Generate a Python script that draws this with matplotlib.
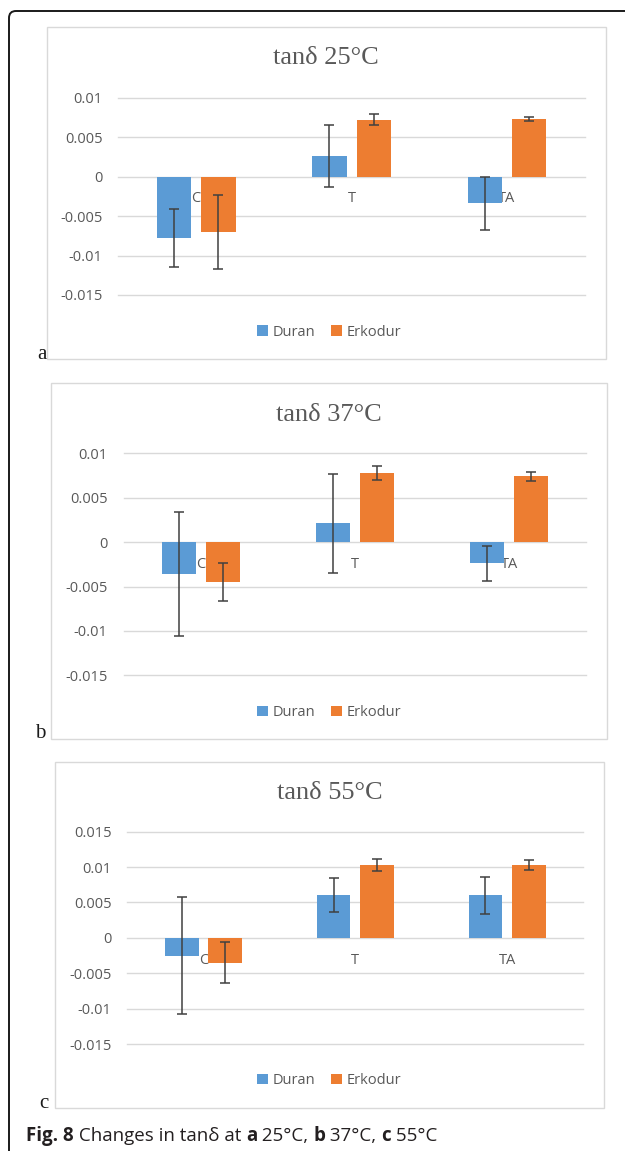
import matplotlib
matplotlib.use("Agg")
import matplotlib.pyplot as plt
import numpy as np
from matplotlib.patches import Rectangle, FancyBboxPatch
from matplotlib.transforms import Affine2D

# ---------------- data ----------------
categories = ["C", "T", "TA"]
series_names = ["Duran", "Erkodur"]

titles = ["tanδ 25°C", "tanδ 37°C", "tanδ 55°C"]
panel_letters = ["a", "b", "c"]

a_duran = [-0.0078, 0.0026, -0.0034]
a_duran_err = [0.0037, 0.0039, 0.0034]
a_erkodur = [-0.0070, 0.0072, 0.0073]
a_erkodur_err = [0.0047, 0.0007, 0.0002]

b_duran = [-0.0036, 0.0021, -0.0024]
b_duran_err = [0.0070, 0.0056, 0.0020]
b_erkodur = [-0.0045, 0.0078, 0.0074]
b_erkodur_err = [0.0021, 0.0008, 0.0005]

c_duran = [-0.0025, 0.0061, 0.0060]
c_duran_err = [0.0083, 0.0024, 0.0026]
c_erkodur = [-0.0035, 0.0103, 0.0103]
c_erkodur_err = [0.0029, 0.0008, 0.0007]

ab_ticks = [-0.015, -0.01, -0.005, 0, 0.005, 0.01]
ab_ticklabels = ["-0.015", "-0.01", "-0.005", "0", "0.005", "0.01"]
c_ticks = [-0.015, -0.01, -0.005, 0, 0.005, 0.01, 0.015]
c_ticklabels = ["-0.015", "-0.01", "-0.005", "0", "0.005", "0.01", "0.015"]

caption_parts = [("Fig. 8", "bold"), (" Changes in tanδ at ", "normal"), ("a", "bold"),
                 (" 25°C, ", "normal"), ("b", "bold"), (" 37°C, ", "normal"),
                 ("c", "bold"), (" 55°C", "normal")]

# ---------------- style ----------------
W, H = 625, 1151
BLUE = "#5B9BD5"
ORANGE = "#ED7D31"
GRID = "#D9D9D9"
TXT = "#595959"
ERR = "#404040"
SANS = ["Open Sans", "DejaVu Sans"]
SERIF = ["Liberation Serif", "DejaVu Serif"]

fig = plt.figure(figsize=(W / 100, H / 100), dpi=100)
fig.patch.set_facecolor("white")
px = Affine2D().scale(1 / W, 1 / H) + fig.transFigure


def fy(y):
    return H - y


# outer frame (rounded, running off the right/bottom edges)
frame = FancyBboxPatch((9, fy(1175)), 640, 1175 - 11,
                       boxstyle="round,pad=0,rounding_size=7",
                       transform=px, facecolor="none", edgecolor="#1a1a1a",
                       linewidth=1.4, clip_on=False, zorder=-5)
fig.patches.append(frame)

panels = [
    dict(box=(46.6, 27.3, 605.8, 359.0), ax=(118.4, 97.7, 584.7, 295.0),
         ylim=(-0.015, 0.01), ticks=ab_ticks, labels=ab_ticklabels,
         duran=a_duran, derr=a_duran_err, erk=a_erkodur, eerr=a_erkodur_err,
         title_y=58, legend_y=332, letter=(41.5, 355)),
    dict(box=(51.4, 383.3, 607.0, 739.3), ax=(123.6, 453.3, 586.3, 675.3),
         ylim=(-0.015, 0.01), ticks=ab_ticks, labels=ab_ticklabels,
         duran=b_duran, derr=b_duran_err, erk=b_erkodur, eerr=b_erkodur_err,
         title_y=415, legend_y=712.7, letter=(40, 733)),
    dict(box=(55.0, 762.0, 604.2, 1107.7), ax=(127.5, 831.7, 583.1, 1044.0),
         ylim=(-0.015, 0.015), ticks=c_ticks, labels=c_ticklabels,
         duran=c_duran, derr=c_duran_err, erk=c_erkodur, eerr=c_erkodur_err,
         title_y=793.3, legend_y=1080.7, letter=(44.2, 1103)),
]

x = np.arange(len(categories))
off = 0.143
bw = 0.222

for i, p in enumerate(panels):
    bx0, by0, bx1, by1 = p["box"]
    fig.patches.append(Rectangle((bx0, fy(by1)), bx1 - bx0, by1 - by0, transform=px,
                                 facecolor="white", edgecolor=GRID, linewidth=1.0,
                                 zorder=-4))
    ax0, ay0, ax1, ay1 = p["ax"]
    ax = fig.add_axes([ax0 / W, fy(ay1) / H, (ax1 - ax0) / W, (ay1 - ay0) / H])
    ax.set_zorder(2)
    ax.set_facecolor("none")
    ax.set_xlim(-0.5, 2.5)
    ax.set_ylim(*p["ylim"])
    ax.set_yticks(p["ticks"])
    ax.set_yticklabels(p["labels"], family=SANS, fontsize=10.5, color=TXT)
    ax.tick_params(axis="y", length=0, pad=11.5)
    ax.set_xticks([])
    for s in ax.spines.values():
        s.set_visible(False)
    ax.yaxis.grid(True, color=GRID, linewidth=1.0)
    ax.set_axisbelow(True)
    for gl in ax.get_ygridlines():
        gl.set_clip_on(False)

    ekw = dict(ecolor=ERR, elinewidth=1.1, capthick=1.1)
    ax.bar(x - off, p["duran"], bw, color=BLUE, yerr=p["derr"], capsize=3.3,
           error_kw=ekw, label=series_names[0], zorder=2)
    ax.bar(x + off, p["erk"], bw, color=ORANGE, yerr=p["eerr"], capsize=3.3,
           error_kw=ekw, label=series_names[1], zorder=2)

    for xi, cat in zip(x, categories):
        ax.annotate(cat, xy=(xi, 0), xytext=(0, -16), textcoords="offset points",
                    ha="center", va="center", family=SANS, fontsize=10.5,
                    color=TXT, zorder=1)

    fig.text((bx0 + bx1) / 2 / W, fy(p["title_y"]) / H, titles[i], family=SERIF,
             fontsize=19, color=TXT, ha="center", va="center")

    handles, lbls = ax.get_legend_handles_labels()
    fig.legend(handles, lbls, loc="center", ncol=2, frameon=False,
               bbox_to_anchor=(329 / W, fy(p["legend_y"]) / H),
               prop=dict(family=SANS, size=10.5), labelcolor=TXT,
               handlelength=0.75, handleheight=0.75, handletextpad=0.3,
               columnspacing=1.1, borderpad=0)

    lx, ly = p["letter"]
    fig.text(lx / W, fy(ly) / H, panel_letters[i], family=SERIF, fontsize=15,
             color="#1a1a1a", ha="center", va="center")

# caption with mixed weights
renderer = fig.canvas.get_renderer()
cx = 26.0
cy = fy(1136) / H
for txt, wt in caption_parts:
    t = fig.text(cx / W, cy, txt, family=SANS, fontsize=13.5, weight=wt,
                 color="#231F20", ha="left", va="center")
    bb = t.get_window_extent(renderer=renderer)
    cx += bb.width

fig.savefig("out.png", dpi=100, facecolor="white")
